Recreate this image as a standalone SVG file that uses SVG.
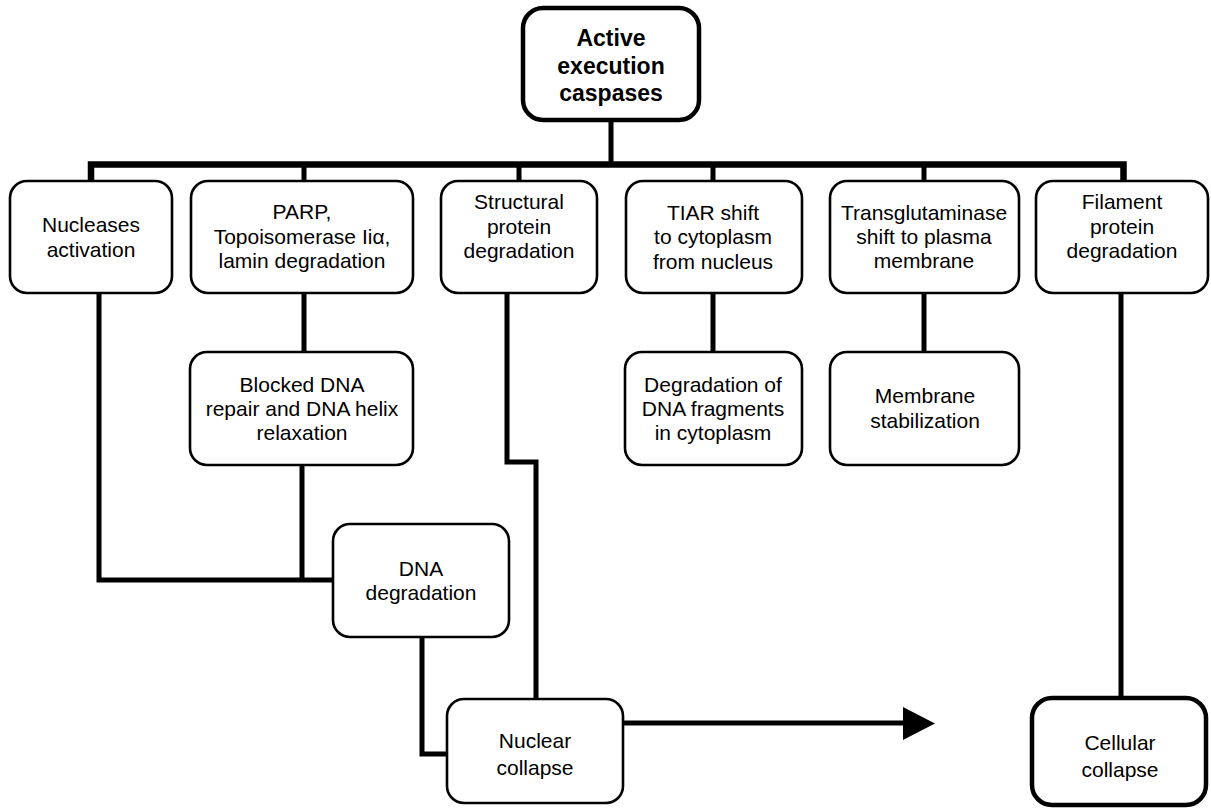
<svg xmlns="http://www.w3.org/2000/svg" width="1211" height="810" viewBox="0 0 1211 810">
<defs>
<style>
.box{fill:#fff;stroke:#000;stroke-width:2.6}
.bold{fill:#fff;stroke:#000;stroke-width:4.5}
.t{font-family:"Liberation Sans",Arial,sans-serif;font-size:21px;fill:#000;text-anchor:middle}
.tb{font-family:"Liberation Sans",Arial,sans-serif;font-size:23px;font-weight:bold;fill:#000;text-anchor:middle}
.c{fill:none;stroke:#000;stroke-width:5;stroke-linejoin:miter;stroke-linecap:butt}
</style>
</defs>
<rect width="1211" height="810" fill="#fff"/>
<g id="connectors">
<path class="c" d="M611 121V164"/>
<path class="c" style="stroke-width:6.5" d="M91 181V164.5H1123.5V181"/>
<path class="c" d="M304 164V181M519 164V181M713 164V181M924 164V181"/>
<path class="c" d="M99 293V580H334"/>
<path class="c" d="M304 293V352"/>
<path class="c" d="M302 465V580"/>
<path class="c" d="M507 293V462H536V699"/>
<path class="c" d="M422 637V754H447"/>
<path class="c" d="M713 293V352"/>
<path class="c" d="M924 293V352"/>
<path class="c" d="M1121 293V697"/>
<path class="c" d="M623 723H904"/>
<polygon points="903,707 935,723.5 903,740" fill="#000"/>
</g>
<g id="n-active">
<rect class="bold" x="523" y="8" width="176" height="112" rx="20"/>
<text class="tb" x="611" y="46">Active</text>
<text class="tb" x="611" y="73.5">execution</text>
<text class="tb" x="611" y="101">caspases</text>
</g>
<g id="n-nucleases">
<rect class="box" x="10" y="181" width="162" height="112" rx="17"/>
<text class="t" x="91" y="232">Nucleases</text>
<text class="t" x="91" y="257">activation</text>
</g>
<g id="n-parp">
<rect class="box" x="191" y="181" width="222" height="112" rx="17"/>
<text class="t" x="302" y="219">PARP,</text>
<text class="t" x="302" y="244">Topoisomerase Iiα,</text>
<text class="t" x="302" y="268">lamin degradation</text>
</g>
<g id="n-structural">
<rect class="box" x="441" y="181" width="156" height="112" rx="17"/>
<text class="t" x="519" y="209">Structural</text>
<text class="t" x="519" y="234">protein</text>
<text class="t" x="519" y="258">degradation</text>
</g>
<g id="n-tiar">
<rect class="box" x="626" y="181" width="176" height="112" rx="17"/>
<text class="t" x="713" y="220">TIAR shift</text>
<text class="t" x="713" y="244">to cytoplasm</text>
<text class="t" x="713" y="269">from nucleus</text>
</g>
<g id="n-transglutaminase">
<rect class="box" x="830" y="181" width="189" height="112" rx="17"/>
<text class="t" x="924" y="220">Transglutaminase</text>
<text class="t" x="924" y="244">shift to plasma</text>
<text class="t" x="924" y="268">membrane</text>
</g>
<g id="n-filament">
<rect class="box" x="1036" y="181" width="172" height="112" rx="17"/>
<text class="t" x="1122" y="209">Filament</text>
<text class="t" x="1122" y="234">protein</text>
<text class="t" x="1122" y="258">degradation</text>
</g>
<g id="n-blocked">
<rect class="box" x="190" y="352" width="223" height="113" rx="17"/>
<text class="t" x="302" y="392">Blocked DNA</text>
<text class="t" x="302" y="416">repair and DNA helix</text>
<text class="t" x="302" y="440">relaxation</text>
</g>
<g id="n-degradation-fragments">
<rect class="box" x="625" y="352" width="177" height="113" rx="17"/>
<text class="t" x="713" y="392">Degradation of</text>
<text class="t" x="713" y="416">DNA fragments</text>
<text class="t" x="713" y="440">in cytoplasm</text>
</g>
<g id="n-membrane">
<rect class="box" x="830" y="352" width="189" height="113" rx="17"/>
<text class="t" x="925" y="403">Membrane</text>
<text class="t" x="925" y="428">stabilization</text>
</g>
<g id="n-dna-degradation">
<rect class="box" x="333" y="524" width="176" height="113" rx="17"/>
<text class="t" x="421" y="576">DNA</text>
<text class="t" x="421" y="600">degradation</text>
</g>
<g id="n-nuclear">
<rect class="box" x="447" y="699" width="176" height="104" rx="17"/>
<text class="t" x="535" y="748">Nuclear</text>
<text class="t" x="535" y="775">collapse</text>
</g>
<g id="n-cellular">
<rect class="bold" x="1032" y="698" width="174" height="107" rx="20"/>
<text class="t" x="1120" y="750">Cellular</text>
<text class="t" x="1120" y="777">collapse</text>
</g>
</svg>
